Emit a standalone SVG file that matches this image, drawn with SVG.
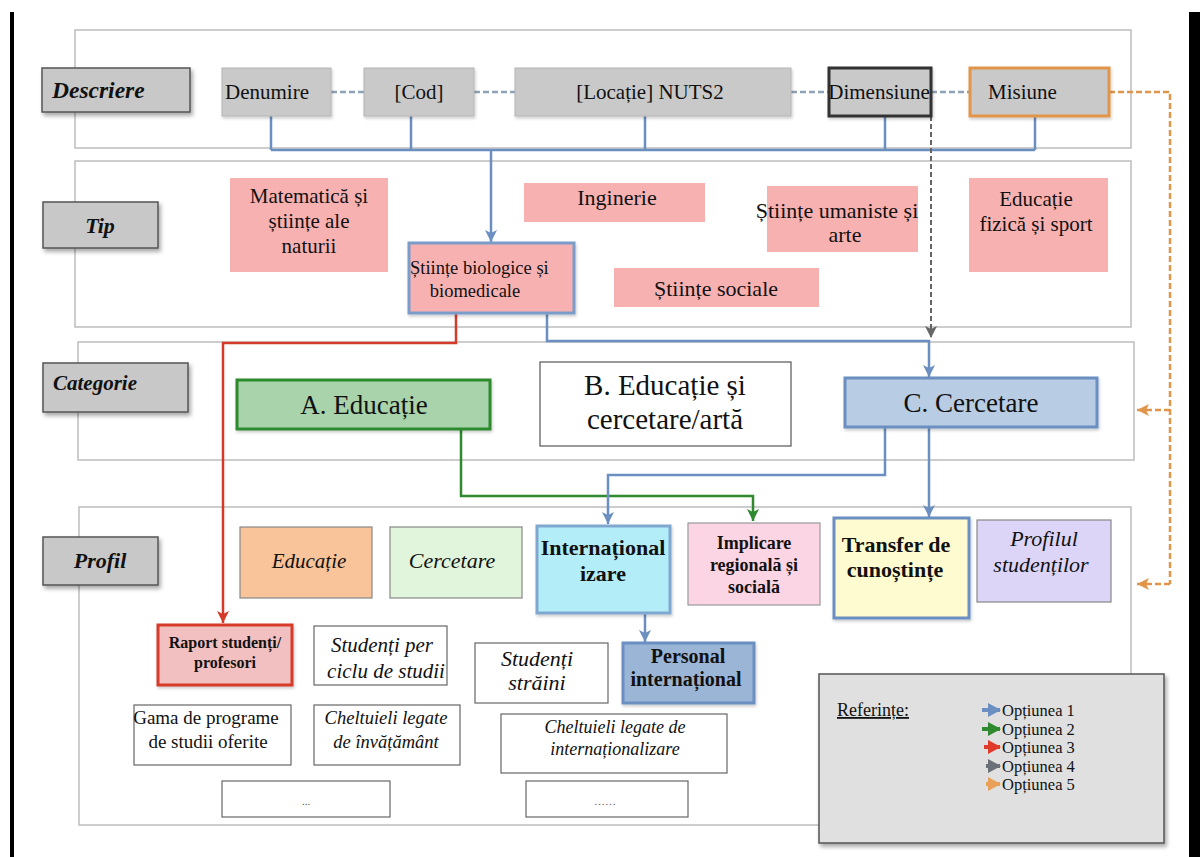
<svg xmlns="http://www.w3.org/2000/svg" width="1200" height="857" viewBox="0 0 1200 857">
<defs>
<filter id="sh" x="-10%" y="-10%" width="130%" height="140%"><feDropShadow dx="2" dy="3" stdDeviation="2" flood-color="#000" flood-opacity="0.35"/></filter>
<filter id="shl" x="-10%" y="-10%" width="130%" height="140%"><feDropShadow dx="1" dy="2" stdDeviation="1.5" flood-color="#000" flood-opacity="0.2"/></filter>
<marker id="aB" markerWidth="14" markerHeight="14" refX="12" refY="7" orient="auto" markerUnits="userSpaceOnUse"><path d="M0,1 L12,7 L0,13 L3,7 z" fill="#6a8fc0"/></marker>
<marker id="aR" markerWidth="14" markerHeight="14" refX="12" refY="7" orient="auto" markerUnits="userSpaceOnUse"><path d="M0,1 L12,7 L0,13 L3,7 z" fill="#d63a2a"/></marker>
<marker id="aG" markerWidth="14" markerHeight="14" refX="12" refY="7" orient="auto" markerUnits="userSpaceOnUse"><path d="M0,1 L12,7 L0,13 L3,7 z" fill="#2f8a2f"/></marker>
<marker id="aK" markerWidth="14" markerHeight="14" refX="12" refY="7" orient="auto" markerUnits="userSpaceOnUse"><path d="M0,1 L12,7 L0,13 L3,7 z" fill="#666"/></marker>
<marker id="aO" markerWidth="14" markerHeight="14" refX="12" refY="7" orient="auto" markerUnits="userSpaceOnUse"><path d="M0,1 L12,7 L0,13 L3,7 z" fill="#e0954a"/></marker>
<marker id="lB" markerWidth="16" markerHeight="16" refX="12" refY="8" orient="auto" markerUnits="userSpaceOnUse"><path d="M0,1 L13,8 L0,15 z" fill="#6a8fc0"/></marker>
<marker id="lG" markerWidth="16" markerHeight="16" refX="12" refY="8" orient="auto" markerUnits="userSpaceOnUse"><path d="M0,1 L13,8 L0,15 z" fill="#2f8a2f"/></marker>
<marker id="lR" markerWidth="16" markerHeight="16" refX="12" refY="8" orient="auto" markerUnits="userSpaceOnUse"><path d="M0,1 L13,8 L0,15 z" fill="#e03a2a"/></marker>
<marker id="lK" markerWidth="16" markerHeight="16" refX="12" refY="8" orient="auto" markerUnits="userSpaceOnUse"><path d="M0,1 L13,8 L0,15 z" fill="#6b6f78"/></marker>
<marker id="lO" markerWidth="16" markerHeight="16" refX="12" refY="8" orient="auto" markerUnits="userSpaceOnUse"><path d="M0,1 L13,8 L0,15 z" fill="#e8a05a"/></marker>
<style>
text{font-family:"Liberation Serif","DejaVu Serif",serif;fill:#111}
.panel{fill:#fff;stroke:#bdbdbd;stroke-width:1.5}
.lbl{fill:#c8c8c8;stroke:#555;stroke-width:1.5}
.lt{font-weight:bold;font-style:italic;font-size:22px}
.dbox{fill:#c9c9c9;stroke:#b5b5b5;stroke-width:1}
.pink{fill:#f8b1b1}
.t20{font-size:20px}
.t21{font-size:21px}
.t22{font-size:22px}
.t27{font-size:27px}
.it{font-style:italic}
.bd{font-weight:bold}
.mid{text-anchor:middle}
.wbox{fill:#fff;stroke:#666;stroke-width:1.2}
.cB{fill:none;stroke:#6a8fc0;stroke-width:2.5}
.cR{fill:none;stroke:#d63a2a;stroke-width:2.5}
.cG{fill:none;stroke:#2f8a2f;stroke-width:2.5}
.cK{fill:none;stroke:#666;stroke-width:2;stroke-dasharray:5,3}
.cO{fill:none;stroke:#e0954a;stroke-width:2.5;stroke-dasharray:6,3}
.cD{fill:none;stroke:#8fa2b8;stroke-width:2.5;stroke-dasharray:6,3}
.leg{font-size:16.5px}
</style>
</defs>
<rect x="0" y="0" width="1200" height="857" fill="#fff"/>
<rect x="10" y="12" width="4" height="845" fill="#000"/>
<rect x="1189" y="12" width="11" height="845" fill="#000"/>

<g id="panels">
<rect class="panel" x="75" y="30" width="1056" height="118"/>
<rect class="panel" x="75" y="161" width="1056" height="166"/>
<rect class="panel" x="78" y="342" width="1056" height="118"/>
<rect class="panel" x="79" y="507" width="1052" height="318"/>
</g>

<g id="connectors">
<path class="cD" d="M331,92 H364 M474,92 H515 M791,92 H829 M931,92 H970"/>
<path class="cB" d="M271,116 V150 M411,116 V150 M645,116 V150 M885,116 V150 M1035,116 V150 M271,150 H1035"/>
<path class="cB" d="M491,150 V242" marker-end="url(#aB)"/>
<path class="cK" d="M931,116 V338" marker-end="url(#aK)"/>
<path class="cO" d="M1109,92 H1170 V584"/>
<path class="cO" d="M1170,410 H1137" marker-end="url(#aO)"/>
<path class="cO" d="M1170,584 H1137" marker-end="url(#aO)"/>
<path class="cR" d="M456,313 V343 H223 V623" marker-end="url(#aR)"/>
<path class="cB" d="M547,313 V341 H929 V377" marker-end="url(#aB)"/>
<path class="cG" d="M461,429 V496 H753 V521" marker-end="url(#aG)"/>
<path class="cB" d="M885,427 V475 H608 V524" marker-end="url(#aB)"/>
<path class="cB" d="M929,427 V517" marker-end="url(#aB)"/>
<path class="cB" d="M645,613 V642" marker-end="url(#aB)"/>
</g>

<g id="label-descriere"><rect class="lbl" filter="url(#sh)" x="42" y="68" width="148" height="44"/><text class="lt" x="52" y="98" style="font-size:23.5px">Descriere</text></g>
<g id="label-tip"><rect class="lbl" filter="url(#sh)" x="43" y="202" width="115" height="46"/><text class="lt mid" x="100" y="233">Tip</text></g>
<g id="label-categorie"><rect class="lbl" filter="url(#sh)" x="43" y="363" width="145" height="49"/><text class="lt" x="53" y="390" style="font-size:21px">Categorie</text></g>
<g id="label-profil"><rect class="lbl" filter="url(#sh)" x="43" y="537" width="115" height="48"/><text class="lt mid" x="100" y="568">Profil</text></g>

<g id="n-denumire"><rect class="dbox" filter="url(#shl)" x="222" y="68" width="109" height="48"/><text class="t21 mid" x="267" y="99">Denumire</text></g>
<g id="n-cod"><rect class="dbox" filter="url(#shl)" x="364" y="68" width="110" height="48"/><text class="t21 mid" x="419" y="99">[Cod]</text></g>
<g id="n-locatie"><rect class="dbox" filter="url(#shl)" x="515" y="68" width="276" height="48"/><text class="t21 mid" x="650" y="99">[Locație] NUTS2</text></g>
<g id="n-dimensiune"><rect x="829" y="68" width="102" height="48" fill="#c9c9c9" stroke="#333" stroke-width="3" filter="url(#shl)"/><text class="t21 mid" x="879" y="99">Dimensiune</text></g>
<g id="n-misiune"><rect x="970" y="68" width="139" height="48" fill="#c9c9c9" stroke="#e0954a" stroke-width="3" filter="url(#shl)"/><text class="t21" x="988" y="99">Misiune</text></g>

<g id="n-matematica"><rect class="pink" x="230" y="178" width="158" height="94"/><text class="t21 mid" x="309" y="203">Matematică și</text><text class="t21 mid" x="309" y="228">științe ale</text><text class="t21 mid" x="309" y="253">naturii</text></g>
<g id="n-inginerie"><rect class="pink" x="524" y="183" width="181" height="39"/><text class="t22 mid" x="617" y="205">Inginerie</text></g>
<g id="n-umaniste"><rect class="pink" x="767" y="186" width="151" height="66"/><text class="t22 mid" x="837" y="218">Științe umaniste și</text><text class="t22 mid" x="845" y="242">arte</text></g>
<g id="n-sport"><rect class="pink" x="969" y="178" width="139" height="94"/><text class="t21 mid" x="1036" y="206">Educație</text><text class="t21 mid" x="1036" y="231">fizică și sport</text></g>
<g id="n-sociale"><rect class="pink" x="614" y="268" width="205" height="39"/><text class="t22 mid" x="716" y="296">Științe sociale</text></g>
<g id="n-biologice"><rect x="409" y="243" width="165" height="70" fill="#f8b1b1" stroke="#7a9cc9" stroke-width="3" filter="url(#shl)"/><text x="410" y="274" style="font-size:18.5px">Științe biologice și</text><text class="mid" x="475" y="297" style="font-size:18.5px">biomedicale</text></g>

<g id="n-a-educatie"><rect x="237" y="380" width="253" height="49" fill="#a9d3ab" stroke="#2f8a2f" stroke-width="3" filter="url(#shl)"/><text class="t27 mid" x="364" y="414">A. Educație</text></g>
<g id="n-b-educatie"><rect x="540" y="362" width="251" height="84" fill="#fff" stroke="#555" stroke-width="1.2"/><text class="mid" x="665" y="395" style="font-size:29px">B. Educație și</text><text class="mid" x="665" y="429" style="font-size:29px">cercetare/artă</text></g>
<g id="n-c-cercetare"><rect x="845" y="378" width="252" height="49" fill="#b8cce4" stroke="#6a8fc0" stroke-width="3" filter="url(#shl)"/><text class="t27 mid" x="971" y="412">C. Cercetare</text></g>

<g id="n-p-educatie"><rect x="240" y="527" width="132" height="71" fill="#f9c49a" stroke="#888" stroke-width="1.2"/><text class="t21 it mid" x="309" y="568">Educație</text></g>
<g id="n-p-cercetare"><rect x="390" y="527" width="132" height="71" fill="#e0f5dc" stroke="#888" stroke-width="1.2"/><text class="t22 it mid" x="452" y="568">Cercetare</text></g>
<g id="n-internationalizare"><rect x="537" y="526" width="133" height="87" fill="#b3edf8" stroke="#7fa7d0" stroke-width="3" filter="url(#shl)"/><text class="t22 bd mid" x="603" y="555">Internațional</text><text class="t22 bd mid" x="603" y="581">izare</text></g>
<g id="n-implicare"><rect x="688" y="523" width="132" height="82" fill="#fcd5e5" stroke="#999" stroke-width="1.2"/><text class="bd mid" x="754" y="549" style="font-size:18px">Implicare</text><text class="bd mid" x="754" y="571" style="font-size:18px">regională și</text><text class="bd mid" x="754" y="593" style="font-size:18px">socială</text></g>
<g id="n-transfer"><rect x="834" y="518" width="135" height="100" fill="#fefbd0" stroke="#6a8fc0" stroke-width="3" filter="url(#shl)"/><text class="t22 bd mid" x="896" y="552">Transfer de</text><text class="t22 bd mid" x="895" y="577">cunoștințe</text></g>
<g id="n-profilul"><rect x="977" y="520" width="134" height="82" fill="#ddd5f8" stroke="#888" stroke-width="1.2"/><text class="it mid" x="1044" y="546" style="font-size:22px">Profilul</text><text class="it mid" x="1041" y="572" style="font-size:22px">studenților</text></g>

<g id="n-raport"><rect x="158" y="625" width="134" height="60" fill="#f2c0c0" stroke="#d63a2a" stroke-width="3" filter="url(#shl)"/><text class="bd mid" x="225" y="648" style="font-size:16px">Raport studenți/</text><text class="bd mid" x="225" y="668" style="font-size:16px">profesori</text></g>
<g id="n-per-ciclu"><rect class="wbox" x="314" y="626" width="133" height="59"/><text class="t21 it mid" x="382" y="652">Studenți per</text><text class="t21 it mid" x="386" y="678">ciclu de studii</text></g>
<g id="n-straini"><rect class="wbox" x="475" y="643" width="133" height="60"/><text class="t22 it mid" x="537" y="666">Studenți</text><text class="t22 it mid" x="537" y="690">străini</text></g>
<g id="n-personal"><rect x="623" y="643" width="131" height="60" fill="#9bb5d6" stroke="#6a8fc0" stroke-width="3" filter="url(#shl)"/><text class="bd mid" x="688" y="663" style="font-size:20px">Personal</text><text class="bd mid" x="686" y="686" style="font-size:20px">internațional</text></g>
<g id="n-gama"><rect class="wbox" x="134" y="705" width="157" height="60"/><text class="mid" x="206" y="724" style="font-size:19px">Gama de programe</text><text class="mid" x="208" y="748" style="font-size:19px">de studii oferite</text></g>
<g id="n-chelt-inv"><rect class="wbox" x="314" y="705" width="146" height="60"/><text class="it mid" x="386" y="724" style="font-size:18.5px">Cheltuieli legate</text><text class="it mid" x="386" y="748" style="font-size:18.5px">de învățământ</text></g>
<g id="n-chelt-int"><rect class="wbox" x="501" y="714" width="226" height="59"/><text class="it mid" x="615" y="733" style="font-size:18px">Cheltuieli legate de</text><text class="it mid" x="615" y="755" style="font-size:18px">internaționalizare</text></g>
<g id="n-dots1"><rect class="wbox" x="222" y="781" width="168" height="36"/><text class="mid" x="306" y="805" style="font-size:11px;fill:#555">...</text></g>
<g id="n-dots2"><rect class="wbox" x="526" y="781" width="162" height="36"/><text class="mid" x="605" y="805" style="font-size:11px;fill:#555">……</text></g>

<g id="legend">
<rect x="819" y="674" width="345" height="169" fill="#e0e0e0" stroke="#555" stroke-width="1.5" filter="url(#sh)"/>
<text x="837" y="716" style="font-size:18px;text-decoration:underline">Referințe:</text>
<path d="M982,710 H1000" stroke="#6a8fc0" stroke-width="4" marker-end="url(#lB)"/>
<path d="M982,729 H1000" stroke="#2f8a2f" stroke-width="4" marker-end="url(#lG)"/>
<path d="M984,747 H1000" stroke="#e03a2a" stroke-width="4" marker-end="url(#lR)"/>
<path d="M986,766 H993 M996,766 H1000" stroke="#6b6f78" stroke-width="4" marker-end="url(#lK)"/>
<path d="M986,784 H993 M996,784 H1000" stroke="#e8a05a" stroke-width="4" marker-end="url(#lO)"/>
<text class="leg" x="1002" y="716">Opțiunea 1</text>
<text class="leg" x="1002" y="734.5">Opțiunea 2</text>
<text class="leg" x="1002" y="753">Opțiunea 3</text>
<text class="leg" x="1002" y="771.5">Opțiunea 4</text>
<text class="leg" x="1002" y="790">Opțiunea 5</text>
</g>
</svg>
